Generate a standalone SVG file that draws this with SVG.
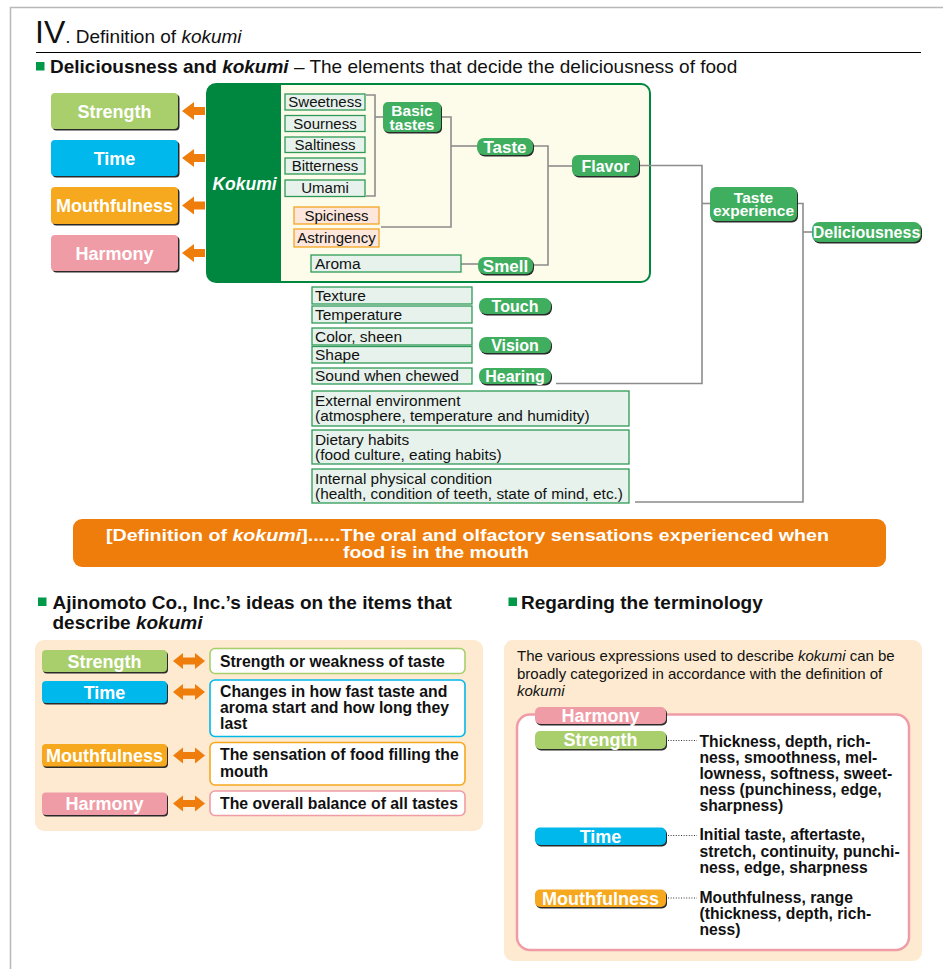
<svg xmlns="http://www.w3.org/2000/svg" width="943" height="969" viewBox="0 0 943 969">
  <style>
    text { font-family: "Liberation Sans", Arial, Helvetica, sans-serif; }
    .frame { stroke: #b8b8b8; stroke-width: 1.5; fill: none; }
    .rule { stroke: #000; stroke-width: 1; }
    .h2 { font-size: 19px; fill: #111; }
    .h3 { font-size: 19px; font-weight: bold; fill: #111; }
    .sq { fill: #00994a; }
    .btn-t { font-size: 18px; font-weight: bold; fill: #fff; text-anchor: middle; }
    .pill-t { font-size: 16px; font-weight: bold; fill: #fff; text-anchor: middle; }
    .tag-t { font-size: 18px; font-weight: bold; fill: #fff; text-anchor: middle; }
    .shadow { fill: #2a2a2a; }
    .strength { fill: #a8cf6c; }
    .time { fill: #00b8ec; }
    .mouth { fill: #f6a81e; }
    .harmony { fill: #f09ca6; }
    .node { fill: #3fae5f; }
    .item { fill: #e6f2eb; stroke: #2f9a56; stroke-width: 1.3; }
    .oitem { fill: #fde6dc; stroke: #f5a623; stroke-width: 1.3; }
    .item-t { font-size: 15px; fill: #111; }
    .low-t { font-size: 15.5px; fill: #111; }
    .box-t { font-size: 15.4px; fill: #111; }
    .wire { stroke: #8c8c8c; stroke-width: 1.6; fill: none; }
    .dots { stroke: #333; stroke-width: 1.2; stroke-dasharray: 1 1.6; fill: none; }
    .arrow { fill: #ef7d0b; }
    .desc { fill: #fff; stroke-width: 1.6; }
    .desc-t { font-size: 15.8px; font-weight: bold; fill: #111; }
    .term-t { font-size: 15.7px; font-weight: bold; fill: #111; }
    .panel { fill: #fdead0; }
    .para { font-size: 15px; fill: #111; }
  </style>

  <!-- page frame and heading -->
  <g id="heading">
    <path class="frame" d="M10.5,969 V7.5 H943"/>
    <text x="35" y="43" style="font-size:32px;font-weight:300;fill:#111">IV<tspan style="font-size:19px">. Definition of </tspan><tspan style="font-size:19px;font-style:italic">kokumi</tspan></text>
    <line class="rule" x1="36" y1="52.5" x2="921" y2="52.5"/>
    <rect class="sq" x="36" y="62" width="8.5" height="8.5"/>
    <text class="h2" x="50" y="73"><tspan font-weight="bold">Deliciousness and </tspan><tspan font-weight="bold" font-style="italic">kokumi</tspan> – The elements that decide the deliciousness of food</text>
  </g>

  <!-- kokumi attribute buttons on the left -->
  <g id="attr-strength">
    <rect class="shadow" x="52.5" y="94.5" width="127" height="36" rx="4"/>
    <rect class="strength" x="51" y="93" width="127" height="36" rx="4"/>
    <text class="btn-t" x="114.5" y="117.5">Strength</text>
    <path class="arrow" d="M182,111 L194,102 V107 H205 V115 H194 V120 Z"/>
  </g>
  <g id="attr-time">
    <rect class="shadow" x="52.5" y="141.5" width="127" height="36" rx="4"/>
    <rect class="time" x="51" y="140" width="127" height="36" rx="4"/>
    <text class="btn-t" x="114.5" y="164.5">Time</text>
    <path class="arrow" d="M182,158 L194,149 V154 H205 V162 H194 V167 Z"/>
  </g>
  <g id="attr-mouthfulness">
    <rect class="shadow" x="52.5" y="188.5" width="127" height="37" rx="4"/>
    <rect class="mouth" x="51" y="187" width="127" height="37" rx="4"/>
    <text class="btn-t" x="114.5" y="212">Mouthfulness</text>
    <path class="arrow" d="M182,205.5 L194,196.5 V201.5 H205 V209.5 H194 V214.5 Z"/>
  </g>
  <g id="attr-harmony">
    <rect class="shadow" x="52.5" y="236.5" width="127" height="36" rx="4"/>
    <rect class="harmony" x="51" y="235" width="127" height="36" rx="4"/>
    <text class="btn-t" x="114.5" y="259.5">Harmony</text>
    <path class="arrow" d="M182,253 L194,244 V249 H205 V257 H194 V262 Z"/>
  </g>

  <!-- kokumi frame -->
  <g id="kokumi">
    <rect x="207" y="84" width="443" height="198" rx="9" fill="#fdfbea" stroke="#00873f" stroke-width="2"/>
    <path d="M216,84 H281 V282 H216 Q207,282 207,273 V93 Q207,84 216,84 Z" fill="#00873f"/>
    <text x="244.5" y="190" text-anchor="middle" style="font-size:17.5px;font-weight:bold;font-style:italic;fill:#fff">Kokumi</text>
  </g>

  <!-- connectors -->
  <g id="connectors">
    <path class="wire" d="M366,95 H375 V196 H366"/>
    <path class="wire" d="M375,117 H383"/>
    <path class="wire" d="M441,117 H451 V227 H381"/>
    <path class="wire" d="M451,146 H477"/>
    <path class="wire" d="M461,264 H478"/>
    <path class="wire" d="M533,146 H548 V265 H533"/>
    <path class="wire" d="M548,166 H572"/>
    <path class="wire" d="M639,165.5 H702 V383.5 H556"/>
    <path class="wire" d="M702,203.5 H710"/>
    <path class="wire" d="M797,203.5 H803 V502 H635"/>
    <path class="wire" d="M803,232 H812"/>
  </g>

  <!-- basic taste items -->
  <g id="sweetness"><rect class="item" x="285" y="94" width="80" height="16"/><text class="item-t" x="325" y="107" text-anchor="middle">Sweetness</text></g>
  <g id="sourness"><rect class="item" x="285" y="115.5" width="80" height="16"/><text class="item-t" x="325" y="128.5" text-anchor="middle">Sourness</text></g>
  <g id="saltiness"><rect class="item" x="285" y="137" width="80" height="15.5"/><text class="item-t" x="325" y="150" text-anchor="middle">Saltiness</text></g>
  <g id="bitterness"><rect class="item" x="285" y="158" width="80" height="16"/><text class="item-t" x="325" y="171" text-anchor="middle">Bitterness</text></g>
  <g id="umami"><rect class="item" x="285" y="180" width="80" height="16.5"/><text class="item-t" x="325" y="193" text-anchor="middle">Umami</text></g>
  <g id="spiciness"><rect class="oitem" x="294" y="207" width="85" height="17"/><text class="item-t" x="336.5" y="220.5" text-anchor="middle">Spiciness</text></g>
  <g id="astringency"><rect class="oitem" x="294" y="229" width="85" height="18"/><text class="item-t" x="336.5" y="243" text-anchor="middle">Astringency</text></g>
  <g id="aroma"><rect class="item" x="311" y="255" width="150" height="17"/><text class="low-t" x="315" y="268.5">Aroma</text></g>

  <!-- green category nodes -->
  <g id="basic-tastes">
    <rect class="shadow" x="384" y="103.5" width="58" height="30" rx="5"/>
    <rect class="node" x="383" y="102" width="58" height="30" rx="5"/>
    <text class="pill-t" style="font-size:15.5px"><tspan x="412" y="116">Basic</tspan><tspan x="412" y="129.5">tastes</tspan></text>
  </g>
  <g id="taste">
    <rect class="shadow" x="478" y="139.5" width="56" height="17" rx="7"/>
    <rect class="node" x="477" y="138" width="56" height="17" rx="7"/>
    <text class="pill-t" x="505" y="152.5" style="font-size:17px">Taste</text>
  </g>
  <g id="smell">
    <rect class="shadow" x="479" y="258.5" width="55" height="17" rx="7"/>
    <rect class="node" x="478" y="257" width="55" height="17" rx="7"/>
    <text class="pill-t" x="505.5" y="271.5" style="font-size:17px">Smell</text>
  </g>
  <g id="flavor">
    <rect class="shadow" x="573" y="156.5" width="67" height="21" rx="6"/>
    <rect class="node" x="572" y="155" width="67" height="21" rx="6"/>
    <text class="pill-t" x="605.5" y="171.5">Flavor</text>
  </g>
  <g id="taste-experience">
    <rect class="shadow" x="711" y="188.5" width="87" height="34" rx="6"/>
    <rect class="node" x="710" y="187" width="87" height="34" rx="6"/>
    <text class="pill-t" style="font-size:15.5px"><tspan x="753.5" y="203">Taste</tspan><tspan x="753.5" y="215.5">experience</tspan></text>
  </g>
  <g id="deliciousness">
    <rect class="shadow" x="813" y="223.5" width="109" height="20" rx="7"/>
    <rect class="node" x="812" y="222" width="109" height="20" rx="7"/>
    <text class="pill-t" x="866.5" y="237.5">Deliciousness</text>
  </g>

  <!-- other senses -->
  <g id="texture"><rect class="item" x="312" y="287" width="160" height="17"/><text class="low-t" x="315" y="300.5">Texture</text></g>
  <g id="temperature"><rect class="item" x="312" y="306" width="160" height="17"/><text class="low-t" x="315" y="319.5">Temperature</text></g>
  <g id="touch">
    <rect class="shadow" x="480" y="299.5" width="72" height="16" rx="7"/>
    <rect class="node" x="479" y="298" width="72" height="16" rx="7"/>
    <text class="pill-t" x="515" y="311.5">Touch</text>
  </g>
  <g id="color-sheen"><rect class="item" x="312" y="328" width="160" height="17"/><text class="low-t" x="315" y="341.5">Color, sheen</text></g>
  <g id="shape"><rect class="item" x="312" y="346.5" width="160" height="16.5"/><text class="low-t" x="315" y="359.5">Shape</text></g>
  <g id="vision">
    <rect class="shadow" x="480" y="338.5" width="72" height="16" rx="7"/>
    <rect class="node" x="479" y="337" width="72" height="16" rx="7"/>
    <text class="pill-t" x="515" y="350.5">Vision</text>
  </g>
  <g id="sound"><rect class="item" x="312" y="368" width="160" height="16"/><text class="low-t" x="315" y="381">Sound when chewed</text></g>
  <g id="hearing">
    <rect class="shadow" x="480" y="369.5" width="72" height="16" rx="7"/>
    <rect class="node" x="479" y="368" width="72" height="16" rx="7"/>
    <text class="pill-t" x="515" y="381.5">Hearing</text>
  </g>
  <g id="external-environment"><rect class="item" x="312" y="391" width="317" height="35"/><text class="box-t" x="315" y="405.5">External environment</text><text class="box-t" x="315" y="421">(atmosphere, temperature and humidity)</text></g>
  <g id="dietary-habits"><rect class="item" x="312" y="430" width="317" height="34"/><text class="box-t" x="315" y="444.5">Dietary habits</text><text class="box-t" x="315" y="460">(food culture, eating habits)</text></g>
  <g id="internal-condition"><rect class="item" x="312" y="469" width="317" height="34"/><text class="box-t" x="315" y="483.5">Internal physical condition</text><text class="box-t" x="315" y="499">(health, condition of teeth, state of mind, etc.)</text></g>

  <!-- definition banner -->
  <g id="definition">
    <rect x="73" y="519" width="813" height="48" rx="9" fill="#ef7d0b"/>
    <text x="106" y="541" textLength="723" lengthAdjust="spacingAndGlyphs" style="font-size:16px;font-weight:bold;fill:#fff">[Definition of <tspan font-style="italic">kokumi</tspan>]......The oral and olfactory sensations experienced when</text>
    <text x="343" y="557.5" textLength="186" lengthAdjust="spacingAndGlyphs" style="font-size:16px;font-weight:bold;fill:#fff">food is in the mouth</text>
  </g>

  <!-- Ajinomoto ideas -->
  <g id="ideas-title">
    <rect class="sq" x="38" y="597.5" width="8.5" height="8.5"/>
    <text class="h3" x="52.5" y="609">Ajinomoto Co., Inc.’s ideas on the items that</text>
    <text class="h3" x="52.5" y="629">describe <tspan font-style="italic">kokumi</tspan></text>
  </g>
  <rect class="panel" x="35" y="640" width="448" height="191" rx="9"/>
  <g id="idea-strength">
    <rect class="shadow" x="43" y="651.5" width="125" height="22" rx="4"/>
    <rect class="strength" x="42" y="650" width="125" height="22" rx="4"/>
    <text class="tag-t" x="104.5" y="667.5">Strength</text>
    <path class="arrow" d="M173,661 L183,653 V657.5 H195 V653 L205,661 L195,669 V664.5 H183 V669 Z"/>
    <rect class="desc" x="210" y="648.5" width="255" height="25" rx="5" stroke="#a8cf6c"/>
    <text class="desc-t" x="220" y="667">Strength or weakness of taste</text>
  </g>
  <g id="idea-time">
    <rect class="shadow" x="43" y="682.5" width="125" height="22" rx="4"/>
    <rect class="time" x="42" y="681" width="125" height="22" rx="4"/>
    <text class="tag-t" x="104.5" y="698.5">Time</text>
    <path class="arrow" d="M173,692 L183,684 V688.5 H195 V684 L205,692 L195,700 V695.5 H183 V700 Z"/>
    <rect class="desc" x="210" y="680" width="255" height="56.5" rx="5" stroke="#00b8ec"/>
    <text class="desc-t" x="220" y="697">Changes in how fast taste and</text>
    <text class="desc-t" x="220" y="713">aroma start and how long they</text>
    <text class="desc-t" x="220" y="728.5">last</text>
  </g>
  <g id="idea-mouthfulness">
    <rect class="shadow" x="43" y="745.5" width="125" height="22.5" rx="4"/>
    <rect class="mouth" x="42" y="744" width="125" height="22.5" rx="4"/>
    <text class="tag-t" x="104.5" y="761.5">Mouthfulness</text>
    <path class="arrow" d="M173,755.5 L183,747.5 V752 H195 V747.5 L205,755.5 L195,763.5 V759 H183 V763.5 Z"/>
    <rect class="desc" x="210" y="742.5" width="255" height="42.5" rx="5" stroke="#f6a81e"/>
    <text class="desc-t" x="220" y="760">The sensation of food filling the</text>
    <text class="desc-t" x="220" y="776.5">mouth</text>
  </g>
  <g id="idea-harmony">
    <rect class="shadow" x="43" y="794" width="125" height="22.5" rx="4"/>
    <rect class="harmony" x="42" y="792.5" width="125" height="22.5" rx="4"/>
    <text class="tag-t" x="104.5" y="810">Harmony</text>
    <path class="arrow" d="M173,803.5 L183,795.5 V800 H195 V795.5 L205,803.5 L195,811.5 V807 H183 V811.5 Z"/>
    <rect class="desc" x="210" y="791" width="255" height="24.5" rx="5" stroke="#f09ca6"/>
    <text class="desc-t" x="220" y="808.5">The overall balance of all tastes</text>
  </g>

  <!-- terminology -->
  <g id="terminology-title">
    <rect class="sq" x="508.5" y="597.5" width="8.5" height="8.5"/>
    <text class="h3" x="521" y="609">Regarding the terminology</text>
  </g>
  <rect class="panel" x="504" y="640" width="418" height="321" rx="9"/>
  <g id="terminology-intro">
    <text class="para" x="517" y="661">The various expressions used to describe <tspan font-style="italic">kokumi</tspan> can be</text>
    <text class="para" x="517" y="679">broadly categorized in accordance with the definition of</text>
    <text class="para" x="517" y="696" font-style="italic">kokumi</text>
  </g>
  <rect x="517" y="714.5" width="392" height="235.5" rx="13" fill="#fff" stroke="#f09ca6" stroke-width="2.5"/>
  <g id="term-harmony">
    <rect class="shadow" x="536" y="708.5" width="131" height="17" rx="5"/>
    <rect class="harmony" x="535" y="707" width="131" height="17" rx="5"/>
    <text class="tag-t" x="600.5" y="721.5">Harmony</text>
  </g>
  <g id="term-strength">
    <rect class="shadow" x="536" y="732.5" width="131" height="18" rx="5"/>
    <rect class="strength" x="535" y="731" width="131" height="18" rx="5"/>
    <text class="tag-t" x="600.5" y="746">Strength</text>
    <path class="dots" d="M668,740.5 H697"/>
    <text class="term-t" x="699.5" y="746.5">Thickness, depth, rich-</text>
    <text class="term-t" x="699.5" y="762.5">ness, smoothness, mel-</text>
    <text class="term-t" x="699.5" y="778.5">lowness, softness, sweet-</text>
    <text class="term-t" x="699.5" y="795">ness (punchiness, edge,</text>
    <text class="term-t" x="699.5" y="811">sharpness)</text>
  </g>
  <g id="term-time">
    <rect class="shadow" x="536" y="829" width="131" height="17.5" rx="5"/>
    <rect class="time" x="535" y="827.5" width="131" height="17.5" rx="5"/>
    <text class="tag-t" x="600.5" y="842.5">Time</text>
    <path class="dots" d="M668,835.5 H697"/>
    <text class="term-t" x="699.5" y="840">Initial taste, aftertaste,</text>
    <text class="term-t" x="699.5" y="856.5">stretch, continuity, punchi-</text>
    <text class="term-t" x="699.5" y="872.5">ness, edge, sharpness</text>
  </g>
  <g id="term-mouthfulness">
    <rect class="shadow" x="536" y="891" width="131" height="17.5" rx="5"/>
    <rect class="mouth" x="535" y="889.5" width="131" height="17.5" rx="5"/>
    <text class="tag-t" x="600.5" y="904.5">Mouthfulness</text>
    <path class="dots" d="M668,898 H697"/>
    <text class="term-t" x="699.5" y="903">Mouthfulness, range</text>
    <text class="term-t" x="699.5" y="919">(thickness, depth, rich-</text>
    <text class="term-t" x="699.5" y="935">ness)</text>
  </g>
</svg>
